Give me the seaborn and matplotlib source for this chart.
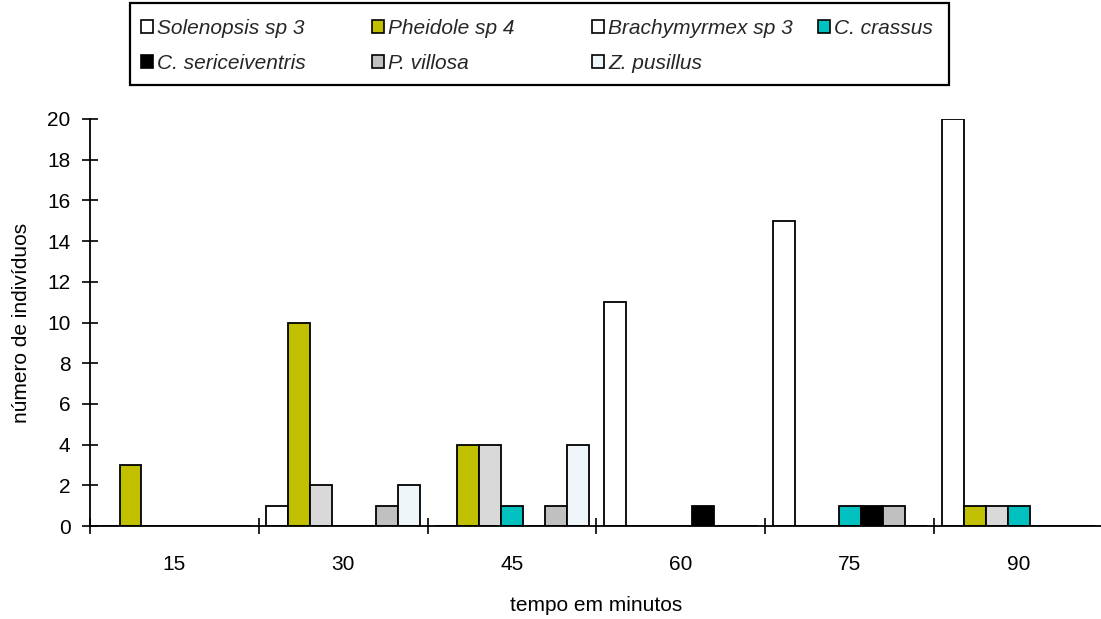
import matplotlib
matplotlib.use("Agg")
import matplotlib.pyplot as plt
import matplotlib.ticker as mticker
from matplotlib.patches import Patch, Rectangle
import seaborn as sns
import pandas as pd

categories = ["15", "30", "45", "60", "75", "90"]
species = ["Solenopsis sp 3", "Pheidole sp 4", "Brachymyrmex sp 3", "C. crassus",
           "C. sericeiventris", "P. villosa", "Z. pusillus"]
solenopsis = [0, 1, 0, 11, 15, 20]
pheidole = [3, 10, 4, 0, 0, 1]
brachymyrmex = [0, 2, 4, 0, 0, 1]
crassus = [0, 0, 1, 0, 1, 1]
sericeiventris = [0, 0, 0, 1, 1, 0]
villosa = [0, 1, 1, 0, 1, 0]
pusillus = [0, 2, 4, 0, 0, 0]
series = [solenopsis, pheidole, brachymyrmex, crassus, sericeiventris, villosa, pusillus]
colors = ["#ffffff", "#c0c000", "#d9d9d9", "#00c0c0", "#000000", "#c0c0c0", "#eef6fa"]
legend_colors = ["#ffffff", "#c0c000", "#ffffff", "#00c0c0", "#000000", "#c0c0c0", "#eef6fa"]

rows = []
for sp, vals in zip(species, series):
    for c, v in zip(categories, vals):
        rows.append({"tempo": c, "n": v, "species": sp})
df = pd.DataFrame(rows)

sns.set_theme(style="white")
plt.rcParams["font.family"] = ["Liberation Sans", "DejaVu Sans"]

FS = 15
fig = plt.figure(figsize=(11.01, 6.19), dpi=100)
W, H = 1101, 619
ax = fig.add_axes([90 / W, 1 - 526 / H, 1013 / W, (526 - 119) / H])

sns.barplot(data=df, x="tempo", y="n", hue="species", order=categories,
            hue_order=species, palette=colors, saturation=1, width=0.91,
            edgecolor="black", linewidth=1.3, errorbar=None, legend=False, ax=ax)

ax.set_xlim(-0.5, 5.5)
ax.set_ylim(0, 20)
ax.set_yticks(range(0, 21, 2))
ax.xaxis.set_minor_locator(mticker.FixedLocator([i - 0.5 for i in range(7)]))
ax.tick_params(axis="x", which="major", length=0, pad=21, labelsize=FS, labelcolor="black")
ax.tick_params(axis="x", which="minor", bottom=True, direction="inout", length=12,
               width=1.2, color="black")
ax.tick_params(axis="y", direction="inout", length=12, width=1.2, color="black",
               labelsize=FS, labelcolor="black", pad=8, left=True)
for s in ["top", "right"]:
    ax.spines[s].set_visible(False)
for s in ["left", "bottom"]:
    ax.spines[s].set_color("black")
    ax.spines[s].set_linewidth(1.3)
ax.set_xlabel("tempo em minutos", fontsize=FS, color="black", labelpad=16)
ax.set_ylabel("número de indivíduos", fontsize=FS, color="black", labelpad=12)

# legend: four columns laid out row-wise as in the original
handles = [Patch(facecolor=c, edgecolor="black", linewidth=1.2) for c in legend_colors]
columns = [[0, 4], [1, 5], [2, 6], [3]]
col_x = [141, 372, 592, 818]
for idxs, x in zip(columns, col_x):
    lg = fig.legend([handles[i] for i in idxs], [species[i] for i in idxs],
                    loc="upper left", bbox_to_anchor=(x / W, 1 - 19 / H),
                    prop={"style": "italic", "size": FS}, frameon=False,
                    handlelength=0.58, handleheight=0.58, handletextpad=0.2,
                    labelspacing=0.75, borderpad=0, borderaxespad=0)
fig.add_artist(Rectangle((130 / W, 1 - 85 / H), (949 - 130) / W, 82 / H,
                         transform=fig.transFigure, fill=False, edgecolor="black",
                         linewidth=1.6))

fig.savefig("out.png", dpi=100, facecolor="white")
